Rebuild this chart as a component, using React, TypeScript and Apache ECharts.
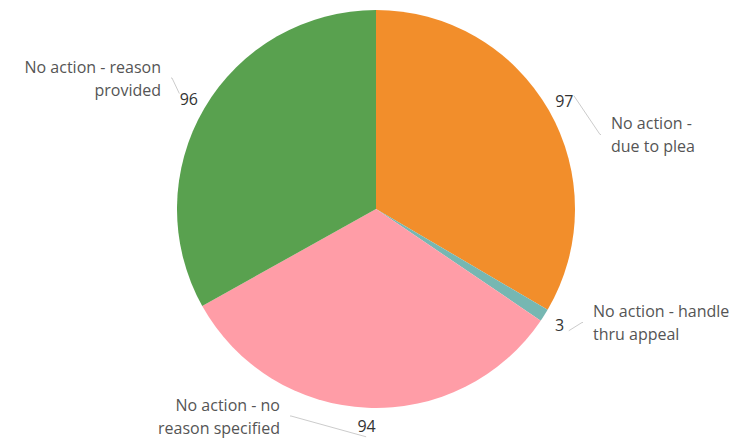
import React, { useEffect, useRef } from "react";
import * as echarts from "echarts";

// ---- data ----
const categories = [
  "No action - due to plea",
  "No action - handle thru appeal",
  "No action - no reason specified",
  "No action - reason provided",
];
// the same names, wrapped where the reference wraps them
const categoryLabels = [
  "No action -\ndue to plea",
  "No action - handle\nthru appeal",
  "No action - no\nreason specified",
  "No action - reason\nprovided",
];
const values = [97, 3, 94, 96];
const colors = ["#F28E2B", "#76B7B2", "#FF9DA7", "#59A14F"];

// ---- layout (not data) ----
const CENTER = [376, 209];
const RADIUS = 199;
const FONT = "Open Sans";
const LABEL_GAP = 10;
const nameLabelPlacement = [
  { x: 611, y: 134.5, align: "left" },
  { x: 593, y: 322.5, align: "left" },
  { x: 280, y: 416, align: "right" },
  { x: 161, y: 78, align: "right" },
];

export default function App() {
  const ref = useRef<HTMLDivElement>(null);

  useEffect(() => {
    if (!ref.current) return;
    const chart = echarts.init(ref.current, undefined, { renderer: "svg" });
    const transparent = "rgba(0,0,0,0)";
    chart.setOption({
      animation: false,
      backgroundColor: "#ffffff",
      series: [
        {
          type: "pie",
          center: CENTER,
          radius: RADIUS,
          startAngle: 90,
          clockwise: true,
          silent: true,
          avoidLabelOverlap: false,
          label: { show: false },
          labelLine: { show: false },
          itemStyle: { borderWidth: 0 },
          data: values.map((v, i) => ({
            name: categories[i],
            value: v,
            itemStyle: { color: colors[i] },
          })),
        },
        {
          type: "pie",
          center: CENTER,
          radius: [RADIUS, RADIUS + 30],
          startAngle: 90,
          clockwise: true,
          silent: true,
          avoidLabelOverlap: false,
          itemStyle: { color: transparent, borderWidth: 0 },
          label: {
            show: true,
            position: "inside",
            formatter: "{c}",
            color: "#333333",
            fontFamily: FONT,
            fontSize: 16,
          },
          labelLine: { show: false },
          data: values.map((v, i) => ({ name: categories[i], value: v })),
        },
        {
          type: "pie",
          center: CENTER,
          radius: RADIUS + 29,
          startAngle: 90,
          clockwise: true,
          silent: true,
          avoidLabelOverlap: false,
          itemStyle: { color: transparent, borderWidth: 0 },
          label: {
            show: true,
            position: "outside",
            formatter: (p: any) => categoryLabels[p.dataIndex],
            color: "#555555",
            fontFamily: FONT,
            fontSize: 16,
            lineHeight: 23,
            overflow: "none",
            distanceToLabelLine: 0,
            padding: [0, LABEL_GAP, 0, LABEL_GAP],
            backgroundColor: transparent,
          },
          labelLine: {
            show: true,
            length: 0,
            length2: 1,
            lineStyle: { color: "#cccccc", width: 1 },
          },
          labelLayout: (params: any) => {
            const p = nameLabelPlacement[params.dataIndex];
            const shift = p.align === "left" ? -LABEL_GAP : LABEL_GAP;
            return {
              x: p.x + shift,
              y: p.y,
              align: p.align,
              verticalAlign: "middle",
            };
          },
          data: values.map((v, i) => ({ name: categories[i], value: v })),
        },
      ],
    });
    return () => chart.dispose();
  }, []);

  return (
    <div
      ref={ref}
      style={{ position: "fixed", left: 0, top: 0, width: 754, height: 440 }}
    />
  );
}
